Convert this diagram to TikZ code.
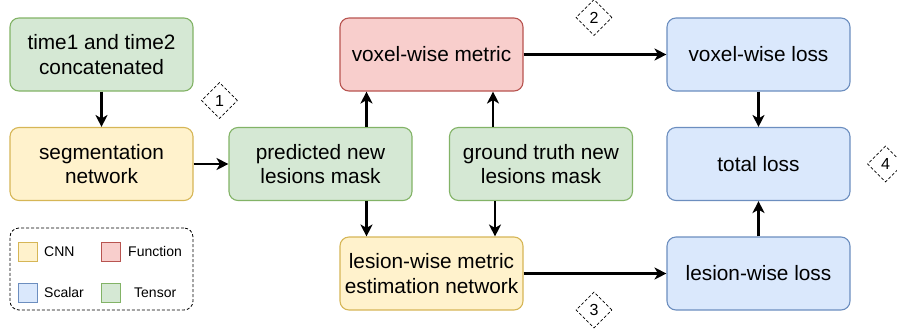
\documentclass[tikz,border=0pt]{standalone}
\usepackage{fontspec}
\setmainfont{Liberation Sans}
\usetikzlibrary{arrows.meta,shapes.geometric}
\definecolor{tensorfill}{HTML}{D5E8D4}
\definecolor{tensorline}{HTML}{82B366}
\definecolor{cnnfill}{HTML}{FFF2CC}
\definecolor{cnnline}{HTML}{D6B656}
\definecolor{funcfill}{HTML}{F8CECC}
\definecolor{funcline}{HTML}{B85450}
\definecolor{scalarfill}{HTML}{DAE8FC}
\definecolor{scalarline}{HTML}{6C8EBF}
\begin{document}
\begin{tikzpicture}[x=1pt,y=-1pt,
    box/.style={draw,line width=1.1pt,rounded corners=9pt,minimum width=183pt,
      minimum height=73pt,align=center,inner sep=2pt,
      font=\fontsize{20.8}{24.5}\selectfont},
    tensor/.style={fill=tensorfill,draw=tensorline},
    cnn/.style={fill=cnnfill,draw=cnnline},
    func/.style={fill=funcfill,draw=funcline},
    scalar/.style={fill=scalarfill,draw=scalarline},
    tag/.style={diamond,draw,densely dashed,line width=0.7pt,minimum width=36pt,
      minimum height=36pt,inner sep=0pt,font=\fontsize{16}{18}\selectfont},
    swatch/.style={draw,line width=1pt,minimum size=19pt,inner sep=0pt},
    legtext/.style={anchor=west,inner sep=0pt,font=\fontsize{14}{16}\selectfont},
    flow/.style={line width=2.6pt,-{Stealth[length=12pt,width=12pt,inset=3.5pt]}}]
  \useasboundingbox (0,0) rectangle (897,330);
  % boxes
  \node[box,tensor] (in) at (101.5,54.5) {time1 and time2\\concatenated};
  \node[box,cnn] (seg) at (101.5,164) {segmentation\\network};
  \node[box,tensor] (pred) at (320.5,164) {predicted new\\lesions mask};
  \node[box,func] (vm) at (431.5,54.5) {voxel-wise metric};
  \node[box,tensor] (gt) at (541,164) {ground truth new\\lesions mask};
  \node[box,cnn] (lm) at (431.5,273.5) {lesion-wise metric\\estimation network};
  \node[box,scalar] (vl) at (758.5,54.5) {voxel-wise loss};
  \node[box,scalar] (tl) at (758.5,164) {total loss};
  \node[box,scalar] (ll) at (758.5,273.5) {lesion-wise loss};
  % step numbers
  \node[tag] (t1) at (219.5,100.5) {1};
  \node[tag] (t2) at (594,17.5) {2};
  \node[tag] (t3) at (594,310) {3};
  \node[tag] (t4) at (885.5,164) {4};
  % legend
  \node[draw,densely dashed,line width=0.8pt,rounded corners=9pt,minimum width=183pt,
    minimum height=82pt] (legend) at (101.5,269) {};
  \node[swatch,cnn] (kcnn) at (27.5,251.5) {};
  \node[legtext] (lcnn) at (44,251.5) {CNN};
  \node[swatch,func] (kfunc) at (110.5,251.5) {};
  \node[legtext] (lfunc) at (128,251.5) {Function};
  \node[swatch,scalar] (kscalar) at (27.5,292.5) {};
  \node[legtext] (lscalar) at (44,292.5) {Scalar};
  \node[swatch,tensor] (ktensor) at (110.5,292.5) {};
  \node[legtext] (ltensor) at (134,292.5) {Tensor};
  \begin{scope}[flow]
    \draw (in) to (seg);
    \draw (seg) to (pred);
    \draw ([xshift=46pt]pred.north) to ([xshift=46pt]pred.north |- vm.south);
    \draw ([xshift=46pt]pred.south) to ([xshift=46pt]pred.south |- lm.north);
    \draw ([xshift=-48pt]gt.north) to ([xshift=-48pt]gt.north |- vm.south);
    \draw ([xshift=-46pt]gt.south) to ([xshift=-46pt]gt.south |- lm.north);
    \draw (vm) to (vl);
    \draw (lm) to (ll);
    \draw (vl) to (tl);
    \draw (ll) to (tl);
  \end{scope}
\end{tikzpicture}
\end{document}
